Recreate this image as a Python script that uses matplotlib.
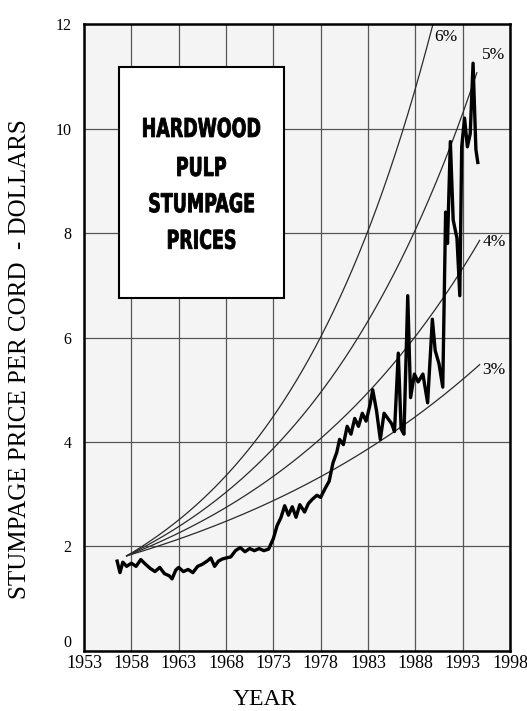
import matplotlib.pyplot as plt
from matplotlib.patches import Rectangle, PathPatch
from matplotlib.textpath import TextPath
from matplotlib.font_manager import FontProperties
import matplotlib.transforms as mtrans
import numpy as np

# hardwood pulp stumpage price, dollars per cord
years = [1956.5, 1956.8, 1957.1, 1957.5, 1958.0, 1958.5, 1959.0, 1959.5, 1960.0, 1960.5,
         1961.0, 1961.5, 1962.0, 1962.3, 1962.7, 1963.0, 1963.5, 1964.0, 1964.5, 1965.0,
         1965.5, 1966.0, 1966.4, 1966.8, 1967.2, 1967.6, 1968.0, 1968.5, 1969.0, 1969.5,
         1970.0, 1970.5, 1971.0, 1971.5, 1972.0, 1972.5, 1973.0, 1973.4, 1973.8, 1974.2,
         1974.6, 1975.0, 1975.4, 1975.8, 1976.3, 1976.7, 1977.1, 1977.6, 1978.0, 1978.5,
         1978.9, 1979.3, 1979.7, 1980.0, 1980.4, 1980.8, 1981.2, 1981.6, 1982.0, 1982.4,
         1982.8, 1983.2, 1983.5, 1983.9, 1984.3, 1984.7, 1985.1, 1985.5, 1985.8, 1986.2,
         1986.5, 1986.8, 1987.2, 1987.5, 1987.9, 1988.3, 1988.8, 1989.3, 1989.8, 1990.1,
         1990.5, 1990.9, 1991.2, 1991.4, 1991.7, 1992.0, 1992.4, 1992.7, 1992.9, 1993.2,
         1993.5, 1993.8, 1994.1, 1994.4, 1994.6]
price = [1.72, 1.50, 1.70, 1.62, 1.68, 1.62, 1.75, 1.66, 1.58, 1.52,
         1.60, 1.48, 1.44, 1.38, 1.55, 1.60, 1.52, 1.56, 1.50, 1.62,
         1.66, 1.72, 1.78, 1.62, 1.72, 1.76, 1.78, 1.80, 1.92, 1.98,
         1.90, 1.96, 1.92, 1.96, 1.92, 1.95, 2.15, 2.40, 2.55, 2.78,
         2.60, 2.76, 2.56, 2.80, 2.66, 2.82, 2.90, 2.98, 2.94, 3.12,
         3.25, 3.60, 3.80, 4.05, 3.95, 4.30, 4.15, 4.45, 4.30, 4.55,
         4.40, 4.70, 5.00, 4.60, 4.05, 4.55, 4.45, 4.35, 4.20, 5.70,
         4.25, 4.15, 6.80, 4.85, 5.30, 5.15, 5.30, 4.75, 6.35, 5.75,
         5.50, 5.05, 8.40, 7.80, 9.75, 8.25, 7.90, 6.80, 9.65, 10.20,
         9.65, 9.90, 11.25, 9.60, 9.35]

# compound growth reference curves
rates = [3, 4, 5, 6]
rate_labels = ['3%', '4%', '5%', '6%']
base_year = 1957.5
base_price = 1.82
end_years = [1994.8, 1994.8, 1994.5, 1990.0]
label_pos = [(1996.3, 5.38), (1996.3, 7.83), (1996.3, 11.4), (1991.2, 11.75)]

title_lines = ['HARDWOOD', 'PULP', 'STUMPAGE', 'PRICES']
title_y = [10.02, 9.27, 8.58, 7.88]

x_ticks = list(range(1953, 1999, 5))
y_ticks = [0, 2, 4, 6, 8, 10, 12]

fig = plt.figure(figsize=(5.27, 7.11), dpi=100)
ax = fig.add_axes([0.1594, 0.0844, 0.8083, 0.8818])
ax.set_facecolor('#f4f4f4')

ax.set_xlim(1953, 1998)
ax.set_ylim(0, 12)
ax.set_xticks(x_ticks)
ax.set_yticks(y_ticks)
ax.tick_params(axis='x', length=0, labelsize=13, pad=3)
ax.tick_params(axis='y', length=0, labelsize=11.5, pad=9)
for lab in ax.get_xticklabels() + ax.get_yticklabels():
    lab.set_fontfamily('Liberation Serif')
ax.get_yticklabels()[0].set_verticalalignment('bottom')

ax.grid(True, color='#555555', lw=0.9, zorder=0)
ax.set_axisbelow(True)
for s in ax.spines.values():
    s.set_linewidth(1.8)

# growth curves
for r, ey in zip(rates, end_years):
    t = np.linspace(base_year, ey, 200)
    v = base_price * (1 + r / 100.0) ** (t - base_year)
    ax.plot(t, v, color='#2a2a2a', lw=0.9, zorder=2)
for lab, (lx, ly) in zip(rate_labels, label_pos):
    ax.text(lx, ly, lab, fontsize=12.5, family='Liberation Serif',
            ha='center', va='center', zorder=4, clip_on=False)

ax.plot(years, price, color='black', lw=2.4, zorder=3)

# title box
ax.add_patch(Rectangle((1956.7, 6.76), 17.45, 4.42, facecolor='white',
                       edgecolor='black', lw=1.5, zorder=5))

# condensed bold lettering: squeeze a bold text path sideways
fp = FontProperties(family='DejaVu Sans', weight='bold')
for line, ty in zip(title_lines, title_y):
    tp = TextPath((0, 0), line, size=26, prop=fp)
    bb = tp.get_extents()
    tr = (mtrans.Affine2D().translate(-(bb.x0 + bb.x1) / 2, -(bb.y0 + bb.y1) / 2)
          .scale(0.67, 1.0)
          + mtrans.ScaledTranslation(1965.43, ty, ax.transData))
    ax.add_patch(PathPatch(tp, transform=tr, facecolor='black', edgecolor='black',
                           lw=0.6, zorder=6))

ax.set_xlabel('YEAR', fontsize=17, family='Liberation Serif')
ax.xaxis.set_label_coords(0.425, -0.06)
ax.set_ylabel('STUMPAGE PRICE PER CORD  - DOLLARS', fontsize=18,
              family='Liberation Serif')
ax.yaxis.set_label_coords(-0.125, 0.465)

fig.savefig('out.png', dpi=100)
